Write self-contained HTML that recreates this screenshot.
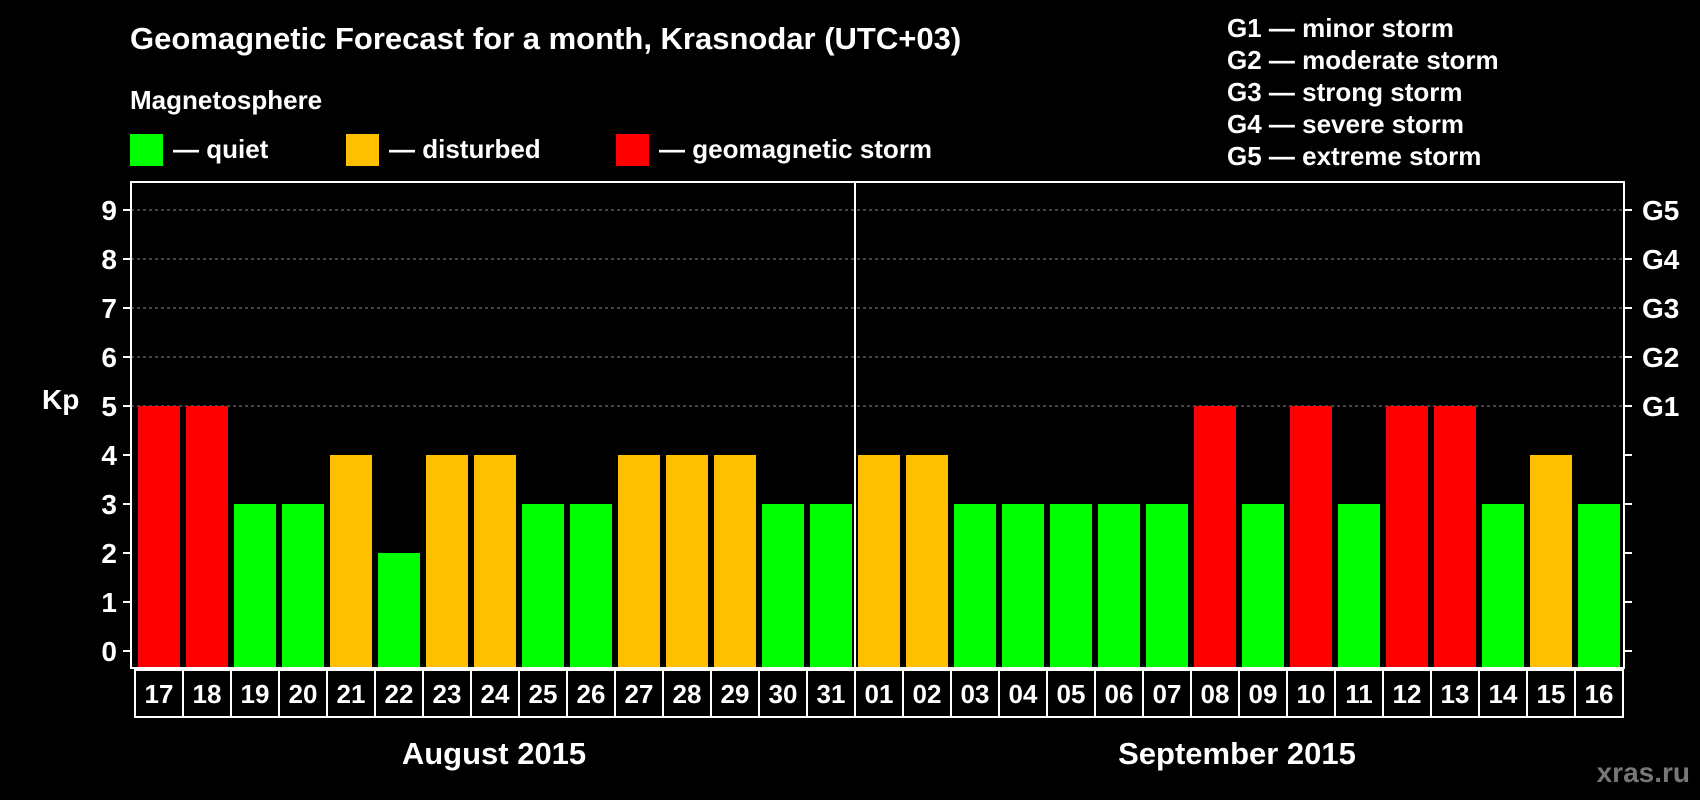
<!DOCTYPE html>
<html><head><meta charset="utf-8"><style>
body{margin:0;background:#000;}
svg{display:block;font-family:"Liberation Sans",Arial,sans-serif;font-weight:bold;}
</style></head><body>
<svg id="chart" width="1700" height="800" viewBox="0 0 1700 800" xmlns="http://www.w3.org/2000/svg">
<rect width="1700" height="800" fill="#000"/>
<text x="130" y="49" fill="#fff" font-size="31">Geomagnetic Forecast for a month, Krasnodar (UTC+03)</text>
<text x="130" y="109" fill="#fff" font-size="26">Magnetosphere</text>
<g><rect x="130" y="134" width="33" height="32" fill="#00ff00"/><text x="173" y="158" fill="#fff" font-size="26">— quiet</text></g>
<g><rect x="346" y="134" width="33" height="32" fill="#ffc000"/><text x="389" y="158" fill="#fff" font-size="26">— disturbed</text></g>
<g><rect x="616" y="134" width="33" height="32" fill="#ff0000"/><text x="659" y="158" fill="#fff" font-size="26">— geomagnetic storm</text></g>
<g fill="#fff" font-size="26">
<text x="1227" y="37">G1 — minor storm</text>
<text x="1227" y="69">G2 — moderate storm</text>
<text x="1227" y="101">G3 — strong storm</text>
<text x="1227" y="133">G4 — severe storm</text>
<text x="1227" y="165">G5 — extreme storm</text>
</g>
<text x="42" y="409" fill="#fff" font-size="28">Kp</text>
<g id="plot"></g>
<text x="494" y="764" fill="#fff" font-size="31" text-anchor="middle">August 2015</text>
<text x="1237" y="764" fill="#fff" font-size="31" text-anchor="middle">September 2015</text>
<text x="1690" y="782" fill="#777" font-size="28" text-anchor="end">xras.ru</text>
</svg>
<script>
const dates=["17","18","19","20","21","22","23","24","25","26","27","28","29","30","31","01","02","03","04","05","06","07","08","09","10","11","12","13","14","15","16"];
const kp=[5,5,3,3,4,2,4,4,3,3,4,4,4,3,3,4,4,3,3,3,3,3,5,3,5,3,5,5,3,4,3];
const yTicks=[0,1,2,3,4,5,6,7,8,9];
const gLabels=["G1","G2","G3","G4","G5"];
const NS="http://www.w3.org/2000/svg";
const g=document.getElementById('plot');
const X0=135,STEP=48,Y0=651,UNIT=49,LEFT=131,RIGHT=1624,TOP=182,BOT=668;
const x=i=>X0+i*STEP;
const y=v=>Y0-v*UNIT;
function mk(t,a){const e=document.createElementNS(NS,t);for(const k in a)e.setAttribute(k,a[k]);g.appendChild(e);return e;}
function color(v){return v>=5?"#ff0000":v>=4?"#ffc000":"#00ff00";}
yTicks.filter(v=>v>=5).forEach(v=>{const l=mk('line',{x1:LEFT,x2:RIGHT,y1:y(v),y2:y(v),stroke:'#888','stroke-dasharray':'3,3','stroke-width':1});

});
kp.forEach((v,i)=>{const r=mk('rect',{x:x(i)+3,y:y(v),width:42,height:BOT-y(v),fill:color(v)});

});
const fr=mk('rect',{x:LEFT,y:TOP,width:RIGHT-LEFT,height:BOT-TOP,fill:'none',stroke:'#fff','stroke-width':2});


const dv=mk('line',{x1:x(15),x2:x(15),y1:TOP,y2:BOT,stroke:'#fff','stroke-width':2});


yTicks.forEach(v=>{
mk('line',{x1:LEFT-8,x2:LEFT,y1:y(v),y2:y(v),stroke:'#fff','stroke-width':2});
mk('line',{x1:RIGHT,x2:RIGHT+8,y1:y(v),y2:y(v),stroke:'#fff','stroke-width':2});
const t=mk('text',{x:LEFT-14,y:y(v)+10,fill:'#fff','font-size':28,'text-anchor':'end'});t.textContent=v;


});
gLabels.forEach((s,i)=>{const t=mk('text',{x:RIGHT+18,y:y(5+i)+10,fill:'#fff','font-size':28});t.textContent=s;

});
dates.forEach((d,i)=>{
const r=mk('rect',{x:x(i),y:670,width:STEP,height:47,fill:'none',stroke:'#fff','stroke-width':2});


const t=mk('text',{x:x(i)+STEP/2,y:703,fill:'#fff','font-size':26,'text-anchor':'middle'});t.textContent=d;


});
</script>
</body></html>
